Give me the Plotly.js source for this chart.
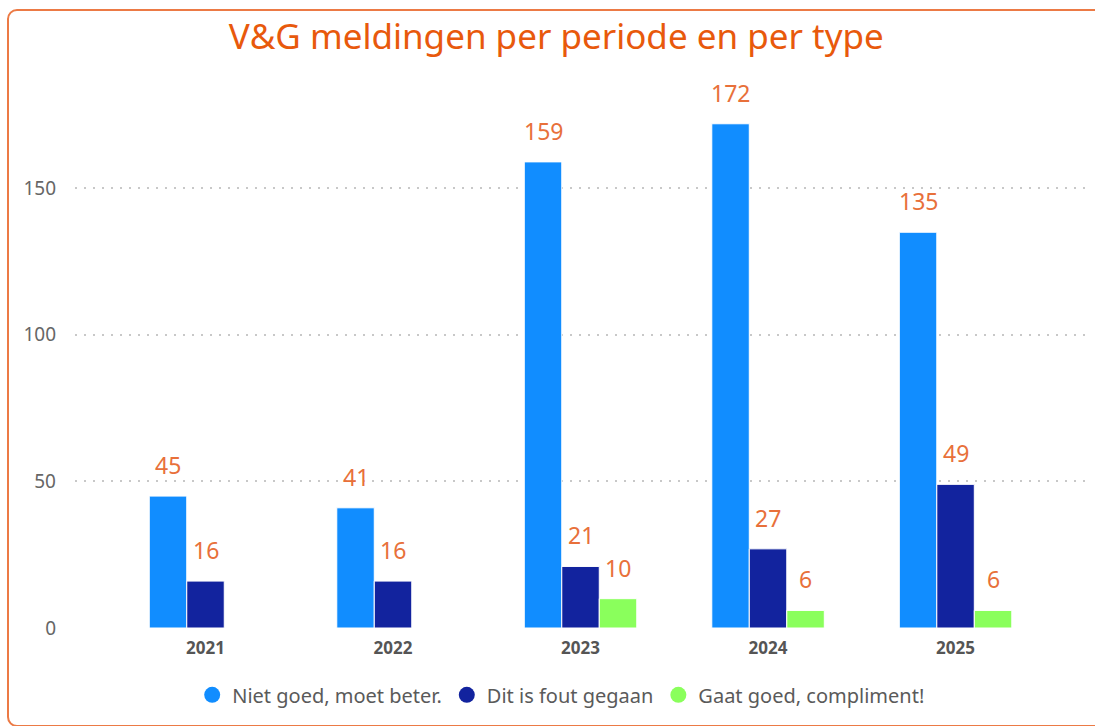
<!DOCTYPE html>
<html>
<head>
<meta charset="utf-8">
<script src="https://cdn.plot.ly/plotly-3.0.1.min.js"></script>
<style>
  html, body { margin: 0; padding: 0; background: #fff; overflow: hidden; }
  #wrap { position: relative; width: 1095px; height: 726px; }
  #chart { position: absolute; left: 0; top: 0; width: 1095px; height: 726px; }
  #frame {
    position: absolute; left: 7px; top: 9px; width: 1110px; height: 714px;
    border: 2px solid #EC7A45; border-radius: 10px; pointer-events: none;
  }
</style>
</head>
<body>
<div id="wrap">
  <div id="chart"></div>
  <div id="frame"></div>
</div>
<script>
// Meldingen per jaar, uitgesplitst naar type
const periodes = ['2021', '2022', '2023', '2024', '2025'];
const nietGoed = [45, 41, 159, 172, 135];
const foutGegaan = [16, 16, 21, 27, 49];
const gaatGoed = [null, null, 10, 6, 6];
const reeksNamen = ['Niet goed, moet beter.', 'Dit is fout gegaan', 'Gaat goed, compliment!'];
const reeksKleuren = ['#118DFF', '#12239E', '#8AFF5C'];
const yTicks = [0, 50, 100, 150];

const fontFamily = '"Segoe UI", "Noto Sans", "Open Sans", sans-serif';
const reeksen = [nietGoed, foutGegaan, gaatGoed];

const traces = reeksen.map((vals, i) => ({
  type: 'bar',
  x: periodes,
  y: vals,
  name: reeksNamen[i],
  marker: { color: reeksKleuren[i], line: { color: '#ffffff', width: 1 } },
  showlegend: false,
  hoverinfo: 'x+y+name'
}));

// Legend entries drawn as round markers
reeksNamen.forEach((n, i) => {
  traces.push({
    type: 'scatter', mode: 'markers', x: [null], y: [null], name: n,
    marker: { color: reeksKleuren[i], size: 17, symbol: 'circle' },
    hoverinfo: 'skip'
  });
});

// Value labels above each bar (category axes position annotations by index)
const barOffset = [-37.5, 0, 37.5];
const annotations = [];
reeksen.forEach((vals, i) => {
  vals.forEach((v, j) => {
    if (v === null) return;
    annotations.push({
      x: j, y: v, xref: 'x', yref: 'y',
      text: String(v), showarrow: false,
      xshift: barOffset[i], yshift: 13, yanchor: 'bottom',
      font: { family: fontFamily, size: 23, color: '#E8703A' }
    });
  });
});

const layout = {
  width: 1095,
  height: 726,
  margin: { l: 75, r: 5, t: 71, b: 98 },
  paper_bgcolor: '#ffffff',
  plot_bgcolor: '#ffffff',
  barmode: 'group',
  bargap: 0.4,
  bargroupgap: 0,
  title: {
    text: 'V&G meldingen per periode en per type',
    x: 0.508, xanchor: 'center',
    yref: 'container', y: 0.949, yanchor: 'middle',
    font: { family: fontFamily, size: 35, color: '#E8590C' }
  },
  xaxis: {
    type: 'category',
    range: [-0.696, 4.717],
    showgrid: false, zeroline: false, showline: false,
    ticks: '',
    tickfont: { family: fontFamily, size: 17, color: '#555555', weight: 'bold' },
    ticklabelstandoff: 8
  },
  yaxis: {
    range: [0, 190],
    tickvals: yTicks,
    ticktext: yTicks.map(String),
    showgrid: true,
    gridcolor: '#C8C8C8',
    gridwidth: 2,
    griddash: '2px,7px',
    zeroline: false, showline: false, ticks: '',
    tickfont: { family: fontFamily, size: 19, color: '#666666' },
    ticklabelstandoff: 18
  },
  legend: {
    orientation: 'h', x: 0.479, xanchor: 'center', y: -0.12, yanchor: 'middle',
    font: { family: fontFamily, size: 20, color: '#5A5A5A' },
    itemsizing: 'trace', itemwidth: 30, tracegroupgap: 0
  },
  annotations: annotations
};

Plotly.newPlot('chart', traces, layout, { displayModeBar: false, staticPlot: true });
</script>
</body>
</html>
